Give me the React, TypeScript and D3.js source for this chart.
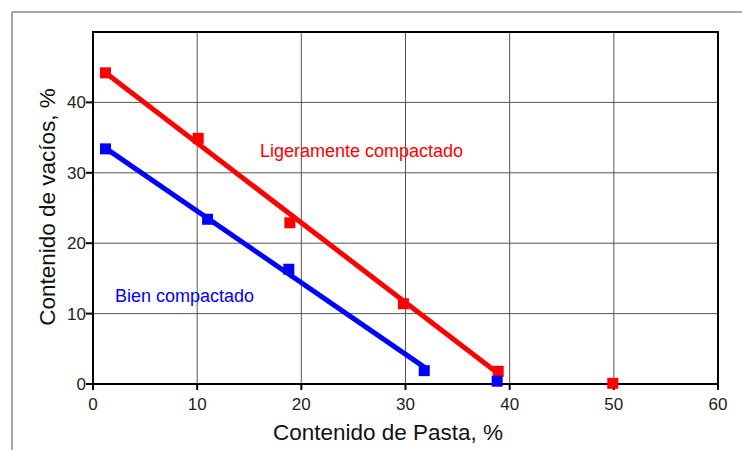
import React from "react";
import * as d3 from "d3";

const xTicks = [0, 10, 20, 30, 40, 50, 60];
const yTicks = [0, 10, 20, 30, 40];

const redX = [1.2, 10.1, 18.9, 29.8, 38.9, 49.9];
const redY = [44.2, 34.9, 22.9, 11.4, 1.8, 0.1];
const blueX = [1.2, 11.0, 18.8, 31.8, 38.8];
const blueY = [33.4, 23.4, 16.3, 1.9, 0.4];

const redLineX = [1.2, 38.9];
const redLineY = [44.2, 1.5];
const blueLineX = [1.2, 31.8];
const blueLineY = [33.5, 2.4];

const W = 742, H = 450;
const L = 93, R = 718, T = 32, B = 384;

export default function App() {
  const x = d3.scaleLinear().domain([0, 60]).range([L, R]);
  const y = d3.scaleLinear().domain([0, 50]).range([B, T]);
  const line = d3.line<[number, number]>().x(d => x(d[0])).y(d => y(d[1]));
  const redLine = line(redLineX.map((v, i) => [v, redLineY[i]]) as [number, number][]) || "";
  const blueLine = line(blueLineX.map((v, i) => [v, blueLineY[i]]) as [number, number][]) || "";
  const ms = 11;
  const font = "Liberation Sans, Arial, sans-serif";
  return (
    <svg width={W} height={H} style={{ position: "absolute", left: 0, top: 0 }} fontFamily={font}>
      <rect x={0} y={0} width={W} height={H} fill="#fff" />
      <line x1={12} y1={12} x2={W} y2={12} stroke="#888" strokeWidth={1.5} />
      <line x1={12} y1={12} x2={12} y2={H} stroke="#888" strokeWidth={1.5} />
      {xTicks.slice(1, -1).map(t => (
        <line key={"gx" + t} x1={x(t)} x2={x(t)} y1={T} y2={B} stroke="#555" strokeWidth={1} />
      ))}
      {yTicks.slice(1).map(t => (
        <line key={"gy" + t} x1={L} x2={R} y1={y(t)} y2={y(t)} stroke="#555" strokeWidth={1} />
      ))}
      <rect x={L} y={T} width={R - L} height={B - T} fill="none" stroke="#000" strokeWidth={2} />
      {xTicks.map(t => (
        <g key={"tx" + t}>
          <line x1={x(t)} x2={x(t)} y1={B} y2={B + 6} stroke="#000" strokeWidth={2} />
          <text x={x(t)} y={B + 26} textAnchor="middle" fontSize={17} fill="#222">{t}</text>
        </g>
      ))}
      {yTicks.map(t => (
        <g key={"ty" + t}>
          <line x1={L - 7} x2={L} y1={y(t)} y2={y(t)} stroke="#000" strokeWidth={2} />
          <text x={L - 7} y={y(t) + 6} textAnchor="end" fontSize={17} fill="#222">{t}</text>
        </g>
      ))}
      <path d={redLine} stroke="#ff0000" strokeWidth={5} fill="none" />
      <path d={blueLine} stroke="#0000ff" strokeWidth={5} fill="none" />
      {redX.map((v, i) => (
        <rect key={"r" + i} x={x(v) - ms / 2} y={y(redY[i]) - ms / 2} width={ms} height={ms} fill="#ff0000" />
      ))}
      {blueX.map((v, i) => (
        <rect key={"b" + i} x={x(v) - ms / 2} y={y(blueY[i]) - ms / 2} width={ms} height={ms} fill="#0000ff" />
      ))}
      <text x={260} y={157} fontSize={18} fill="#ff0000">Ligeramente compactado</text>
      <text x={115} y={302} fontSize={18} fill="#0000ff">Bien compactado</text>
      <text x={388} y={440} textAnchor="middle" fontSize={22.5} fill="#111">Contenido de Pasta, %</text>
      <text transform={`translate(55, 207) rotate(-90)`} textAnchor="middle" fontSize={22.5} fill="#111">Contenido de vacíos, %</text>
    </svg>
  );
}
